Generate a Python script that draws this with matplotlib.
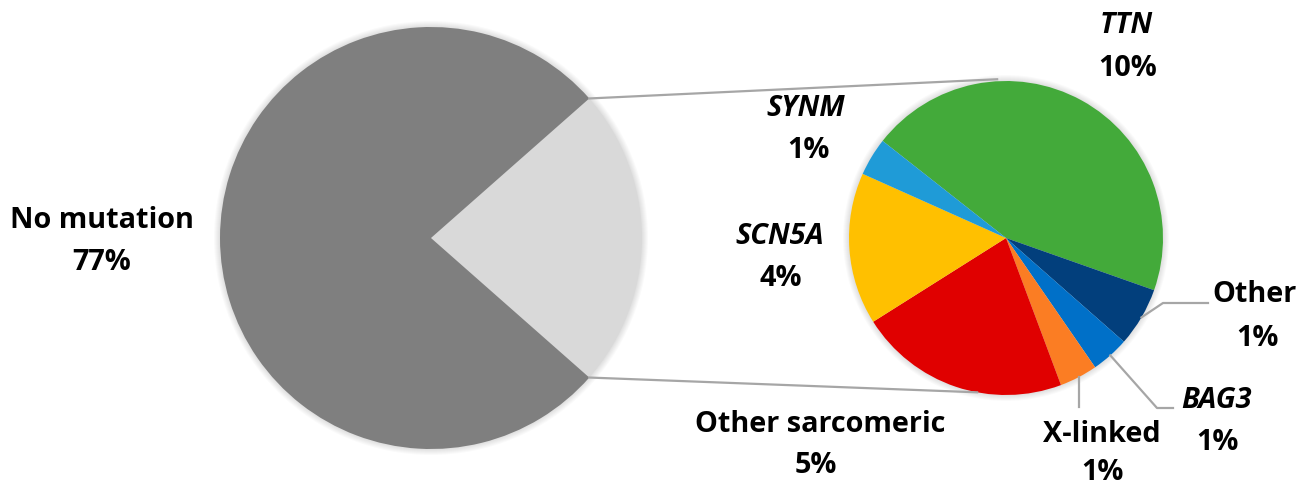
import matplotlib
matplotlib.use("Agg")
import matplotlib.pyplot as plt
import numpy as np

# ---- data ----
main_labels = ["Other", "No mutation"]
main_values = [23, 77]
main_pct_labels = ["", "77%"]
main_colors = ["#d9d9d9", "#7f7f7f"]

sub_labels = ["TTN", "Other", "BAG3", "X-linked", "Other sarcomeric", "SCN5A", "SYNM"]
sub_values = [10.3, 1.4, 0.9, 0.9, 5.0, 3.6, 0.9]
sub_pct_labels = ["10%", "1%", "1%", "1%", "5%", "4%", "1%"]
sub_italic = [True, False, True, False, False, True, True]
sub_colors = ["#43aa3a", "#023f7c", "#0070c8", "#fb7d23", "#e00000", "#ffc000", "#1f9bd7"]

# ---- layout ----
W, H = 1311, 486
FONT = "Open Sans"
FS = 20.8
LINE_C = "#a6a6a6"

fig = plt.figure(figsize=(W / 100, H / 100), dpi=100)
ax = fig.add_axes([0, 0, 1, 1])

big_c, big_r = (431, 248), 211
small_c, small_r = (1006, 248), 157


def shadow(c, r):
    for k in range(1, 7):
        ax.add_patch(plt.Circle(c, r + k, color="#000000", alpha=0.018, lw=0, zorder=0))


shadow(big_c, big_r)
shadow(small_c, small_r)

half = main_values[0] / sum(main_values) * 360 / 2
ax.pie(main_values, colors=main_colors, center=big_c, radius=big_r,
       startangle=-half, counterclock=True, wedgeprops=dict(linewidth=0))

sub_start = 141.8
wedges, _ = ax.pie(sub_values, colors=sub_colors, center=small_c, radius=small_r,
                   startangle=sub_start, counterclock=False, wedgeprops=dict(linewidth=0))


def on_circle(c, r, ang):
    a = np.deg2rad(ang)
    return c[0] + r * np.cos(a), c[1] + r * np.sin(a)


# connector lines between the pies
p1 = on_circle(big_c, big_r, half)
q1 = on_circle(small_c, small_r + 2, 93.2)
p2 = on_circle(big_c, big_r, -half)
q2 = on_circle(small_c, small_r, 259.4)
ax.plot([p1[0], q1[0]], [p1[1], q1[1]], color=LINE_C, lw=1.6, zorder=1)
ax.plot([p2[0], q2[0]], [p2[1], q2[1]], color=LINE_C, lw=1.6, zorder=1)


def mid_angle(w):
    return (w.theta1 + w.theta2) / 2


# leader lines
idx = {n: i for i, n in enumerate(sub_labels)}
w = wedges[idx["Other"]]
s = on_circle(small_c, small_r, mid_angle(w))
ax.plot([s[0], 1163, 1208], [s[1], H - 303, H - 303], color=LINE_C, lw=1.6)
w = wedges[idx["BAG3"]]
s = on_circle(small_c, small_r, mid_angle(w))
ax.plot([s[0], 1157, 1173], [s[1], H - 408, H - 408], color=LINE_C, lw=1.6)
w = wedges[idx["X-linked"]]
s = on_circle(small_c, small_r, mid_angle(w))
ax.plot([s[0], s[0]], [s[1], H - 407], color=LINE_C, lw=1.6)

# labels (image-pixel centres of name and percentage)
label_pos = {
    "No mutation": ((102, 220), (102, 263)),
    "TTN": ((1126, 26), (1128, 69)),
    "Other": ((1255, 295), (1257, 338)),
    "BAG3": ((1217, 400), (1217, 442)),
    "X-linked": ((1102, 434), (1102, 472)),
    "Other sarcomeric": ((820, 424), (816, 465)),
    "SCN5A": ((780, 237), (781, 279)),
    "SYNM": ((806, 109), (808, 150)),
}


def put(txt, pos, italic=False):
    ax.text(pos[0], H - pos[1], txt, ha="center", va="center", fontsize=FS,
            fontweight="bold", fontstyle="italic" if italic else "normal",
            family=FONT, color="#000000")


put(main_labels[1], label_pos["No mutation"][0])
put(main_pct_labels[1], label_pos["No mutation"][1])
for name, pct, it in zip(sub_labels, sub_pct_labels, sub_italic):
    a, b = label_pos[name]
    put(name, a, it)
    put(pct, b)

ax.set_xlim(0, W)
ax.set_ylim(0, H)
ax.set_aspect("equal")
ax.axis("off")
fig.savefig("out.png", dpi=100, facecolor="white")
